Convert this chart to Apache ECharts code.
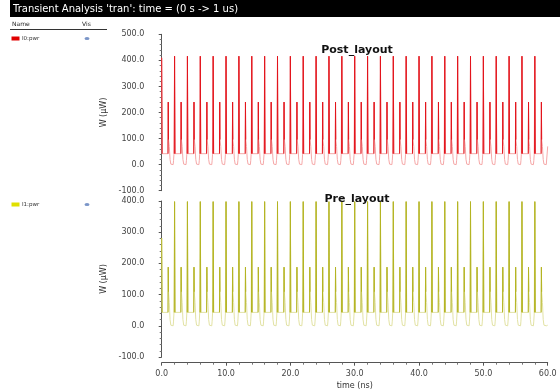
<!DOCTYPE html>
<html>
<head>
<meta charset="utf-8">
<script src="https://cdn.jsdelivr.net/npm/echarts@6/dist/echarts.min.js"></script>
<style>
  html, body { margin: 0; padding: 0; background: #fff; }
  #chart { width: 560px; height: 392px; }
</style>
</head>
<body>
<div id="chart"></div>
<script>
// Tick values of the axes
const timeTicks = [0, 10, 20, 30, 40, 50, 60];
const postPowerTicks = [-100, 0, 100, 200, 300, 400, 500];
const prePowerTicks = [-100, 0, 100, 200, 300, 400];

// Start of each switching cycle (ns), one tall spike every 2 ns
const cycleStarts = [0, 2, 4, 6, 8, 10, 12, 14, 16, 18, 20, 22, 24, 26, 28,
                     30, 32, 34, 36, 38, 40, 42, 44, 46, 48, 50, 52, 54, 56, 58];

// Peak power of the tall spike and of the mid-cycle spike, per cycle (uW)
const postTallPeaks = [410, 416, 416, 416, 416, 416, 416, 416, 416, 416, 416, 416, 416, 416, 416,
                       416, 416, 416, 416, 416, 416, 416, 416, 416, 416, 416, 416, 416, 416, 416];
const postMidPeaks = [240, 240, 240, 240, 240, 240, 240, 240, 240, 240, 240, 240, 240, 240, 240,
                      240, 240, 240, 240, 240, 240, 240, 240, 240, 240, 240, 240, 240, 240, 240];
const preTallPeaks = [281, 398, 398, 398, 398, 398, 398, 398, 398, 398, 398, 398, 398, 398, 398,
                      398, 398, 398, 398, 398, 398, 398, 398, 398, 398, 398, 398, 398, 398, 398];
const preMidPeaks = [188, 188, 188, 188, 188, 188, 188, 188, 188, 188, 188, 188, 188, 188, 188,
                     188, 188, 188, 188, 188, 188, 188, 188, 188, 188, 188, 188, 188, 188, 188];

// Waveform within one cycle: time offsets (ns) and power levels (uW).
// Index 0 is the tall spike, index 3 the mid-cycle spike.
const cycleOffsets = [0, 0.07, 0.98, 1.02, 1.06, 1.10, 1.18, 1.30, 1.42, 1.50, 1.78, 1.84, 1.90, 1.96];
const postLevels   = [0, 42,   42,   0,    96,   96,   70,   20,   2,    0,    0,    15,   38,   42];
const preLevels    = [0, 43,   43,   0,    109,  105,  75,   20,   2,    0,    0,    15,   38,   43];
const TALL = 0, MID = 3;

// End of the trace
const postTail = [[59.8, 0], [59.93, 0], [60, 70]];
const preTail = [[59.8, 0], [60, 2]];

function buildTrace(tallPeaks, midPeaks, levels, tail) {
  const pts = [], peaks = [];
  cycleStarts.forEach((t0, k) => {
    cycleOffsets.forEach((dt, i) => {
      const t = +(t0 + dt).toFixed(3);
      if (t >= tail[0][0]) return;
      let v = levels[i];
      if (i === TALL) v = tallPeaks[k];
      if (i === MID) v = midPeaks[k];
      if (i === TALL || i === MID) peaks.push(pts.length);
      pts.push([t, v]);
    });
  });
  tail.forEach(p => pts.push(p));
  // spike strokes: each peak with the points on either side of it, '-' breaks the stroke
  const spikes = [];
  peaks.forEach(j => {
    if (spikes.length) spikes.push([pts[j][0] - 0.03, '-']);
    for (let m = Math.max(0, j - 1); m <= Math.min(pts.length - 1, j + 1); m++) spikes.push(pts[m]);
  });
  return { pts, spikes };
}

const post = buildTrace(postTallPeaks, postMidPeaks, postLevels, postTail);
const pre = buildTrace(preTallPeaks, preMidPeaks, preLevels, preTail);

const FONT = 'DejaVu Sans';
const chart = echarts.init(document.getElementById('chart'), null, { renderer: 'canvas' });

function yAxisFor(grid, ticks) {
  return {
    gridIndex: grid, type: 'value',
    min: ticks[0], max: ticks[ticks.length - 1], interval: ticks[1] - ticks[0],
    offset: 8.4,
    name: 'W (\u03bcW)', nameLocation: 'middle', nameGap: 37, nameRotate: 90,
    nameTextStyle: { fontFamily: FONT, fontSize: 8, color: '#333' },
    axisLine: { show: true, lineStyle: { color: '#555', width: 1 } },
    axisTick: { show: true, length: 3, lineStyle: { color: '#555' } },
    minorTick: { show: true, splitNumber: 5, length: 2, lineStyle: { color: '#777' } },
    splitLine: { show: false },
    axisLabel: { fontFamily: FONT, fontSize: 8, color: '#444', margin: 9,
                 formatter: v => v.toFixed(1) }
  };
}

chart.setOption({
  animation: false,
  backgroundColor: '#fff',
  title: [
    { text: 'Post_layout', left: 352, top: 40, textAlign: 'center',
      textStyle: { fontFamily: FONT, fontSize: 11, fontWeight: 'bold', color: '#111' } },
    { text: 'Pre_layout', left: 352, top: 189, textAlign: 'center',
      textStyle: { fontFamily: FONT, fontSize: 11, fontWeight: 'bold', color: '#111' } }
  ],
  grid: [
    { left: 161.7, right: 12.3, top: 34.3, height: 156.4 },
    { left: 161.7, right: 12.3, top: 201, height: 156 }
  ],
  xAxis: [
    { gridIndex: 0, type: 'value', min: timeTicks[0], max: timeTicks[timeTicks.length - 1], show: false },
    { gridIndex: 1, type: 'value',
      min: timeTicks[0], max: timeTicks[timeTicks.length - 1], interval: timeTicks[1] - timeTicks[0],
      offset: 5.7,
      name: 'time (ns)', nameLocation: 'middle', nameGap: 19,
      nameTextStyle: { fontFamily: FONT, fontSize: 8, color: '#333' },
      axisLine: { show: true, onZero: false, lineStyle: { color: '#555', width: 1 } },
      axisTick: { show: true, length: 3, lineStyle: { color: '#555' } },
      minorTick: { show: true, splitNumber: 5, length: 2, lineStyle: { color: '#777' } },
      splitLine: { show: false },
      axisLabel: { fontFamily: FONT, fontSize: 8, color: '#444', margin: 7,
                   formatter: v => v.toFixed(1) } }
  ],
  yAxis: [yAxisFor(0, postPowerTicks), yAxisFor(1, prePowerTicks)],
  series: [
    { name: 'I0:pwr', type: 'line', xAxisIndex: 0, yAxisIndex: 0, data: post.pts,
      showSymbol: false, lineStyle: { color: '#f5a8a8', width: 1 } },
    { name: 'I0:pwr spikes', type: 'line', xAxisIndex: 0, yAxisIndex: 0, data: post.spikes,
      showSymbol: false, connectNulls: false, lineStyle: { color: '#e3141c', width: 1 } },
    { name: 'I1:pwr', type: 'line', xAxisIndex: 1, yAxisIndex: 1, data: pre.pts,
      showSymbol: false, lineStyle: { color: '#e2e2a4', width: 1 } },
    { name: 'I1:pwr spikes', type: 'line', xAxisIndex: 1, yAxisIndex: 1, data: pre.spikes,
      showSymbol: false, connectNulls: false, lineStyle: { color: '#b4b422', width: 1 } }
  ],
  graphic: [
    { type: 'rect', shape: { x: 10, y: 0, width: 550, height: 17 }, style: { fill: '#000' } },
    { type: 'text', x: 13, y: 9,
      style: { text: "Transient Analysis 'tran': time = (0 s -> 1 us)", fill: '#fff',
               font: '10px "DejaVu Sans"', verticalAlign: 'middle' } },
    { type: 'text', x: 12, y: 24.5,
      style: { text: 'Name', fill: '#222', font: '6px "DejaVu Sans"', verticalAlign: 'middle' } },
    { type: 'text', x: 82, y: 24.5,
      style: { text: 'Vis', fill: '#222', font: '6px "DejaVu Sans"', verticalAlign: 'middle' } },
    { type: 'line', shape: { x1: 10, y1: 29.5, x2: 107, y2: 29.5 }, style: { stroke: '#333', lineWidth: 1 } },
    { type: 'rect', shape: { x: 11.5, y: 36.5, width: 8, height: 4 }, style: { fill: '#e00000' } },
    { type: 'text', x: 22, y: 38.7,
      style: { text: 'I0:pwr', fill: '#333', font: '5.5px "DejaVu Sans"', verticalAlign: 'middle' } },
    { type: 'circle', x: 87, y: 38.5, scaleY: 0.6, shape: { cx: 0, cy: 0, r: 2.5 }, style: { fill: '#7a95c8' } },
    { type: 'rect', shape: { x: 11.5, y: 202.5, width: 8, height: 4 }, style: { fill: '#e0e000' } },
    { type: 'text', x: 22, y: 204.7,
      style: { text: 'I1:pwr', fill: '#333', font: '5.5px "DejaVu Sans"', verticalAlign: 'middle' } },
    { type: 'circle', x: 87, y: 204.5, scaleY: 0.6, shape: { cx: 0, cy: 0, r: 2.5 }, style: { fill: '#7a95c8' } }
  ]
});
</script>
</body>
</html>
